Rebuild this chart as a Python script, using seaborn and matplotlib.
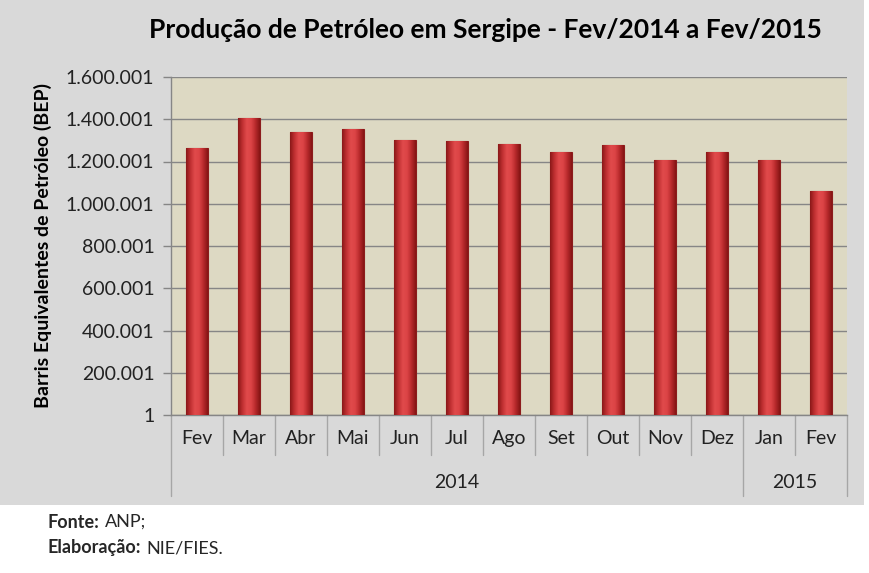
import matplotlib.pyplot as plt
import matplotlib.patches as mpatches
import matplotlib.transforms as mtransforms
import numpy as np
import pandas as pd
import seaborn as sns

months = ["Fev", "Mar", "Abr", "Mai", "Jun", "Jul", "Ago", "Set", "Out", "Nov", "Dez", "Jan", "Fev"]
years = ["2014"] * 11 + ["2015"] * 2
producao = [1263000, 1405000, 1339000, 1353000, 1301000, 1299000, 1284000,
            1246000, 1277000, 1206000, 1244000, 1206000, 1058000]
yticks = [1, 200001, 400001, 600001, 800001, 1000001, 1200001, 1400001, 1600001]

df = pd.DataFrame({"pos": range(len(months)), "mes": months, "ano": years, "valor": producao})

sns.set_theme(style="white")
plt.rcParams["font.family"] = ["Lato", "DejaVu Sans"]

fig = plt.figure(figsize=(8.7, 5.73), dpi=100)
fig.patch.set_facecolor("white")
fig.patches.append(mpatches.Rectangle((0, 1 - 505 / 573), 864 / 870, 505 / 573,
                                      transform=fig.transFigure, facecolor="#d9d9d9",
                                      edgecolor="none", zorder=-10))

ax = fig.add_axes([171 / 870, 1 - 415 / 573, 676 / 870, 338 / 573])
ax.set_facecolor("#ddd9c3")

sns.barplot(data=df, x="pos", y="valor", color="#c8383a", width=0.42,
            edgecolor="#8c1c1c", linewidth=0.8, ax=ax, zorder=3)

# cylinder-like shading on each bar
grad = np.linspace(0, 1, 64)
cmap = plt.matplotlib.colors.LinearSegmentedColormap.from_list(
    "r", ["#8a1818", "#c03032", "#e04a4b", "#dc4446", "#b82a2c", "#861515"])
for p in ax.patches:
    x0, y0 = p.get_x(), p.get_y()
    w, h = p.get_width(), p.get_height()
    im = ax.imshow(grad[None, :], extent=(x0, x0 + w, y0, y0 + h), aspect="auto",
                   cmap=cmap, zorder=3.5, origin="lower")
    im.set_clip_path(p)

ax.set_xlim(-0.5, len(months) - 0.5)
ax.set_ylim(1, 1600001)
ax.set_yticks(yticks)
ax.set_yticklabels([f"{v:,}".replace(",", ".") for v in yticks], fontsize=14, color="#222222")
ax.set_xticks(range(len(months)))
ax.set_xticklabels(months, fontsize=14, color="#222222")
ax.tick_params(axis="x", length=0, pad=11)
ax.tick_params(axis="y", length=6, width=1, color="#868686", direction="out", left=True, pad=6)
ax.yaxis.grid(True, color="#868686", linewidth=1)
ax.set_axisbelow(True)
for side in ["top", "right"]:
    ax.spines[side].set_visible(False)
for side in ["left", "bottom"]:
    ax.spines[side].set_color("#868686")
    ax.spines[side].set_linewidth(1)

ax.set_xlabel("")
ax.set_ylabel("Barris Equivalentes de Petróleo (BEP)", fontsize=14, fontweight="bold",
              color="black", labelpad=10)

# two-level category axis
trans = mtransforms.blended_transform_factory(ax.transData, ax.transAxes)
bounds = [i - 0.5 for i in range(len(months) + 1)]
group_edges = [-0.5]
for i in range(1, len(years)):
    if years[i] != years[i - 1]:
        group_edges.append(i - 0.5)
group_edges.append(len(years) - 0.5)
for b in bounds:
    low = -0.24 if b in group_edges else -0.118
    ax.plot([b, b], [0, low], transform=trans, color="#a6a6a6", lw=1, clip_on=False)
for a, b in zip(group_edges[:-1], group_edges[1:]):
    ax.text((a + b) / 2, -0.201, years[int(a + 0.5)], transform=trans, ha="center",
            va="center", fontsize=14, color="#222222")

fig.text(485 / 870, 1 - 30 / 573, "Produção de Petróleo em Sergipe - Fev/2014 a Fev/2015",
         ha="center", va="center", fontsize=19, fontweight="bold", color="black")

# footer: bold label followed by plain text
for y, label, rest in [(522, "Fonte:", "ANP;"), (548, "Elaboração:", "NIE/FIES.")]:
    t = fig.text(48 / 870, 1 - y / 573, label, ha="left", va="center", fontsize=13, fontweight="bold")
    fig.canvas.draw()
    x_end = t.get_window_extent().x1
    fig.text((x_end + 5) / 870, 1 - y / 573, rest, ha="left", va="center", fontsize=13)

fig.savefig("out.png", dpi=100)
plt.close(fig)
